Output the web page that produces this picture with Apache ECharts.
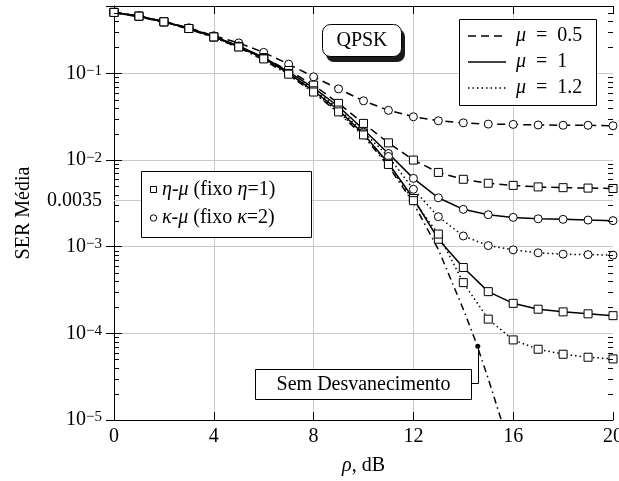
<!DOCTYPE html>
<html><head><meta charset="utf-8">
<script src="https://cdn.jsdelivr.net/npm/echarts@6/dist/echarts.min.js"></script>
<style>html,body{margin:0;padding:0;background:#fff}#c{width:619px;height:481px}</style>
</head><body><div id="c"></div><script>
const FONT = 'Liberation Serif';
const snr = [0,1,2,3,4,5,6,7,8,9,10,11,12,13,14,15,16,17,18,19,20];
const etaMu05 = [0.506,0.458,0.394,0.330,0.264,0.205,0.152,0.108,0.0733,0.0451,0.0265,0.0158,0.0100,0.0072,0.0060,0.0054,0.0051,0.0049,0.0048,0.00475,0.0047];
const etaMu1 = [0.506,0.458,0.394,0.330,0.264,0.203,0.149,0.100,0.063,0.0378,0.020,0.0092,0.0036,0.00122,0.000575,0.000303,0.000222,0.00019,0.000177,0.000168,0.00016];
const etaMu12 = [0.506,0.458,0.394,0.330,0.264,0.202,0.147,0.098,0.061,0.036,0.0195,0.0089,0.0034,0.0014,0.000385,0.000146,0.000084,0.0000656,0.0000574,0.000053,0.0000507];
const kappaMu05 = [0.506,0.460,0.398,0.336,0.272,0.225,0.175,0.128,0.0914,0.0663,0.0483,0.0375,0.0316,0.0284,0.0269,0.026,0.0258,0.0254,0.0252,0.0252,0.0249];
const kappaMu1 = [0.506,0.458,0.395,0.332,0.267,0.207,0.153,0.104,0.068,0.0415,0.0225,0.0119,0.00615,0.00367,0.0027,0.00234,0.00218,0.0021,0.00207,0.00203,0.0020];
const kappaMu12 = [0.506,0.458,0.394,0.331,0.265,0.204,0.150,0.101,0.065,0.039,0.021,0.0110,0.0046,0.00222,0.00133,0.00103,0.00092,0.00085,0.00082,0.00081,0.0008];
const awgnSnr = [0,1,2,3,4,5,6,7,8,9,10,11,12,13,14,14.5,15,15.5,16];
const awgn = [0.50,0.45,0.39,0.325,0.26,0.198,0.143,0.096,0.060,0.035,0.019,0.0085,0.0032,0.00093,0.00019,0.00008,0.00003,0.0000105,0.0000029];
const xTicks = [0,4,8,12,16,20];
const extraYTick = 0.0035;
const awgnMarker = [14.58, 0.0000710];

const chart = echarts.init(document.getElementById('c'), null, {renderer:'canvas'});
const pairs = (xs, ys) => xs.map((x,i)=>[x, ys[i]]);
const DASH = [8,5], DOT = [1.5,3], DASHDOT = [7,4,1.5,4];
function mk(name, ys, dash, symbol) {
  return {
    name, type:'line', data: pairs(snr, ys), symbol, symbolSize: 8,
    lineStyle:{color:'#000', width:1.5, type: dash},
    itemStyle:{color:'#fff', borderColor:'#000', borderWidth:1},
    emphasis:{disabled:true}, z:3, animation:false, clip:true
  };
}
const minorVals = [];
for (let d=-5; d<=-1; d++) for (let k=2; k<=9; k++) { const v = k*Math.pow(10,d); if (v < 0.6) minorVals.push(v); }

const yLabel = v => {
  const e = Math.log10(v); const r = Math.round(e);
  if (Math.abs(e-r) > 1e-6) return '';
  return '{b|10}{s|\u2212' + (-r) + '}';
};
const gridLine = {color:'#c8c8c8', width:1};
const option = {
  backgroundColor:'#fff',
  animation:false,
  grid:{left:114, right:6, top:6, bottom:61, outerBoundsMode:'none', containLabel:false},
  xAxis:[
    {type:'value', min:0, max:20, interval:4, position:'bottom',
     axisLine:{show:true, lineStyle:{color:'#000', width:1}},
     axisTick:{show:true, inside:true, length:8, lineStyle:{color:'#000'}},
     axisLabel:{fontFamily:FONT, fontSize:20, color:'#000', margin:7},
     splitLine:{show:true, lineStyle:gridLine, showMinLine:false, showMaxLine:false},
     name:'{i|\u03c1}, dB', nameLocation:'middle', nameGap:36,
     nameTextStyle:{fontFamily:FONT, fontSize:20, color:'#000', rich:{i:{fontFamily:FONT, fontSize:20, fontStyle:'italic', color:'#000'}}}},
    {type:'value', min:0, max:20, interval:4, position:'top',
     axisLine:{show:true, lineStyle:{color:'#000', width:1}},
     axisTick:{show:true, inside:true, length:8, lineStyle:{color:'#000'}},
     axisLabel:{show:false}, splitLine:{show:false}}
  ],
  yAxis:[
    {type:'log', logBase:10, min:0.00001, max:0.6, position:'left',
     axisLine:{show:true, lineStyle:{color:'#000', width:1}},
     axisTick:{show:true, inside:true, length:8, lineStyle:{color:'#000'}},
     axisLabel:{formatter:yLabel, margin:12, color:'#000',
       rich:{b:{fontFamily:FONT, fontSize:20, color:'#000'}, s:{fontFamily:FONT, fontSize:15, color:'#000', verticalAlign:'top'}}},
     splitLine:{show:true, lineStyle:gridLine, showMinLine:false, showMaxLine:false},
     name:'SER M\u00e9dia', nameLocation:'middle', nameGap:80, nameRotate:90,
     nameTextStyle:{fontFamily:FONT, fontSize:20, color:'#000'}},
    {type:'log', logBase:10, min:0.00001, max:0.6, position:'right',
     axisLine:{show:true, lineStyle:{color:'#000', width:1}},
     axisTick:{show:true, inside:true, length:8, lineStyle:{color:'#000'}},
     axisLabel:{show:false}, splitLine:{show:false}}
  ],
  series:[
    {type:'custom', name:'grid0035', z:1, silent:true, clip:false, data:[[0, extraYTick]],
     renderItem:(params, api) => {
       const a = api.coord([0, api.value(1)]), b = api.coord([20, api.value(1)]);
       const y = Math.round(a[1]) + 0.5;
       return {type:'group', children:[
         {type:'line', shape:{x1:a[0], y1:y, x2:b[0], y2:y}, style:{stroke:'#c8c8c8', lineWidth:1}},
         {type:'text', style:{text:String(extraYTick), x:a[0]-12, y:y, align:'right', verticalAlign:'middle',
           fontFamily:FONT, fontSize:20, fill:'#000'}}
       ]};
     }},
    {type:'custom', name:'minorTicks', z:4, silent:true, clip:false, data: minorVals.map(v=>[0,v]),
     renderItem:(params, api) => {
       const a = api.coord([0, api.value(1)]), b = api.coord([20, api.value(1)]);
       const y = Math.round(a[1]) + 0.5;
       return {type:'group', children:[
         {type:'line', shape:{x1:a[0], y1:y, x2:a[0]+5, y2:y}, style:{stroke:'#000', lineWidth:1}},
         {type:'line', shape:{x1:b[0]-5, y1:y, x2:b[0], y2:y}, style:{stroke:'#000', lineWidth:1}}
       ]};
     }},
    {name:'Sem Desvanecimento', type:'line', data: pairs(awgnSnr, awgn), symbol:'none',
     lineStyle:{color:'#000', width:1.5, type:DASHDOT}, emphasis:{disabled:true}, z:2, clip:true,
     markPoint:{silent:true, symbol:'circle', symbolSize:5, itemStyle:{color:'#000'}, label:{show:false},
       data:[{coord: awgnMarker}]}},
    mk('kappaMu05', kappaMu05, DASH, 'circle'),
    mk('kappaMu1', kappaMu1, 'solid', 'circle'),
    mk('kappaMu12', kappaMu12, DOT, 'circle'),
    mk('etaMu05', etaMu05, DASH, 'rect'),
    mk('etaMu1', etaMu1, 'solid', 'rect'),
    mk('etaMu12', etaMu12, DOT, 'rect')
  ]
};
chart.setOption(option);

const p = chart.convertToPixel({xAxisIndex:0, yAxisIndex:0}, awgnMarker);
const px = Math.round(p[0]) + 0.5;
const italic = {fontFamily:FONT, fontSize:20, fontStyle:'italic', fill:'#000'};
const txt = (x, y, text, align) => ({type:'text', z:20, style:{x, y, text, align: align||'left', verticalAlign:'middle',
  fontFamily:FONT, fontSize:20, fill:'#000', rich:{i:italic}}});
const seg = (x1,y1,x2,y2,dash) => ({type:'line', z:20, shape:{x1,y1,x2,y2}, style:{stroke:'#000', lineWidth:1.5, lineDash:dash||null}});
chart.setOption({graphic:[
  // QPSK box with shadow
  {type:'rect', z:18, shape:{x:326, y:29, width:79, height:33, r:8}, style:{fill:'#1a1a1a'}},
  {type:'rect', z:19, shape:{x:322.5, y:24.5, width:79, height:32, r:8}, style:{fill:'#fff', stroke:'#000', lineWidth:1}},
  txt(362, 41, 'QPSK', 'center'),
  // right legend
  {type:'rect', z:19, shape:{x:459.5, y:19.5, width:137, height:86}, style:{fill:'#fff', stroke:'#000', lineWidth:1}},
  seg(468, 36, 506, 36, DASH), txt(516, 36, '{i|\u03bc}  =  0.5'),
  seg(468, 62, 506, 62), txt(516, 62, '{i|\u03bc}  =  1'),
  seg(468, 88, 506, 88, DOT), txt(516, 88, '{i|\u03bc}  =  1.2'),
  // left legend
  {type:'rect', z:19, shape:{x:141.5, y:171.5, width:170, height:66}, style:{fill:'#fff', stroke:'#000', lineWidth:1}},
  {type:'rect', z:20, shape:{x:150.5, y:186.5, width:6, height:6}, style:{fill:'#fff', stroke:'#000', lineWidth:1}},
  txt(162, 190, '{i|\u03b7}-{i|\u03bc} (fixo {i|\u03b7}=1)'),
  {type:'circle', z:20, shape:{cx:153.5, cy:218, r:3.2}, style:{fill:'#fff', stroke:'#000', lineWidth:1}},
  txt(162, 218, '{i|\u03ba}-{i|\u03bc} (fixo {i|\u03ba}=2)'),
  // Sem Desvanecimento annotation
  {type:'rect', z:19, shape:{x:255.5, y:369.5, width:216, height:30}, style:{fill:'#fff', stroke:'#000', lineWidth:1}},
  txt(363.5, 385, 'Sem Desvanecimento', 'center'),
  {type:'polyline', z:20, shape:{points:[[471.5, 383.5],[px, 383.5],[px, p[1]]]}, style:{stroke:'#000', lineWidth:1, fill:null}}
]});
</script></body></html>
